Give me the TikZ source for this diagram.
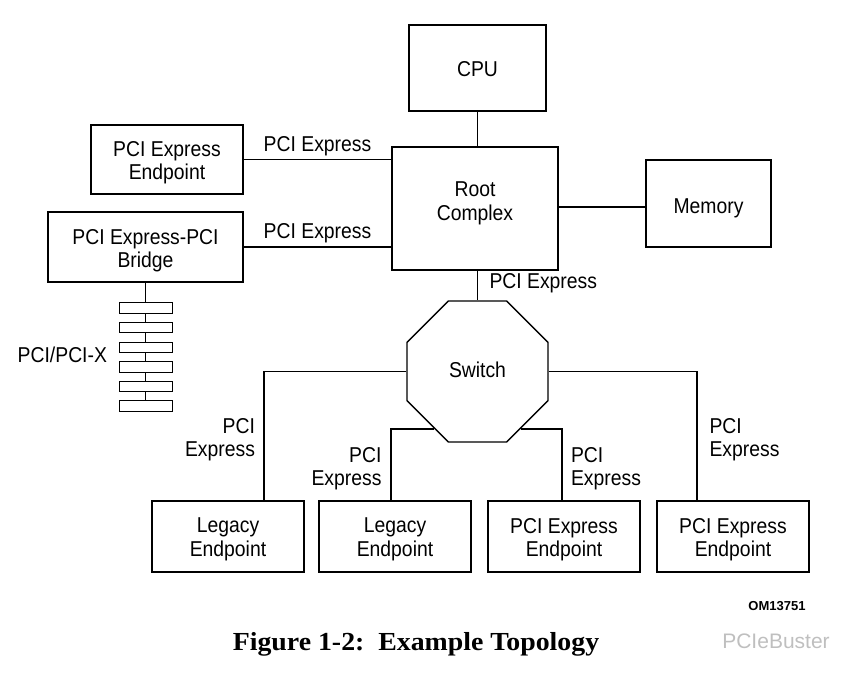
\documentclass[tikz,border=0pt]{standalone}
\usepackage{fontspec}
\setmainfont{Liberation Sans}[FakeStretch=0.9]
\newfontfamily\tagfont{Liberation Sans}
\newfontfamily\capfont{Liberation Serif}[FakeStretch=1.07]
\usetikzlibrary{shapes.geometric}

\begin{document}
\begin{tikzpicture}[x=1pt, y=-1pt, line width=1.4pt,
    box/.style={draw, inner sep=0pt},
    txt/.style={align=center},
    bus/.style={draw, line width=0.9pt, fill=white, minimum width=53pt, minimum height=10.5pt, inner sep=0pt},
    font=\fontsize{21.5}{23.5}\selectfont]
    \useasboundingbox (0,0) rectangle (859,677);
    \path (477.5, 68) node [box, minimum width=137pt, minimum height=86pt, label={[txt,yshift=-1pt]center:CPU}] (cpu) {};
    \path (475, 208.5) node [box, minimum width=166pt, minimum height=123pt, label={[txt,yshift=5pt]center:Root\\Complex}] (rc) {};
    \path (708.5, 203.5) node [box, minimum width=125pt, minimum height=87pt, label={[txt,yshift=-5pt]center:Memory}] (mem) {};
    \path (167, 159.5) node [box, minimum width=152pt, minimum height=69pt, label={[txt,yshift=-3pt]center:PCI Express\\Endpoint}] (ep) {};
    \path (145.5, 247) node [box, minimum width=195pt, minimum height=70pt, label={[txt,yshift=-3.5pt]center:PCI Express-PCI\\Bridge}] (br) {};
    \path (477.5, 371.5) node [draw, regular polygon, regular polygon sides=8, minimum size=152.6pt, inner sep=0pt, label={[txt,yshift=2pt]center:Switch}] (sw) {};
    \path (228, 536.5) node [box, minimum width=152pt, minimum height=71pt, label={[txt,yshift=-3pt]center:Legacy\\Endpoint}] (le1) {};
    \path (395, 536.5) node [box, minimum width=152pt, minimum height=71pt, label={[txt,yshift=-3pt]center:Legacy\\Endpoint}] (le2) {};
    \path (564, 536.5) node [box, minimum width=152pt, minimum height=71pt, label={[txt,yshift=-3pt]center:PCI Express\\Endpoint}] (pe1) {};
    \path (733, 536.5) node [box, minimum width=152pt, minimum height=71pt, label={[txt,yshift=-3pt]center:PCI Express\\Endpoint}] (pe2) {};
    % links to the root complex
    \draw (cpu.south) -- (cpu.south |- rc.north);
    \draw (ep.east) -- (ep.east -| rc.west) node[midway,above] {PCI Express};
    \draw (br.east) -- (br.east -| rc.west) node[midway,above] {PCI Express};
    \draw ([yshift=-3.5pt]mem.west -| rc.east) -- ([yshift=-3.5pt]mem.west);
    \draw (sw.north |- rc.south) -- (sw.north) node[midway,right,xshift=8pt,yshift=2pt] {PCI Express};
    % links from the switch
    \draw (sw.west) -| ([xshift=36pt]le1.north) node[pos=0.75,anchor=east,xshift=-5pt,yshift=-4pt,align=right] {PCI\\Express};
    \draw (sw.233) -| ([xshift=-4pt]le2.north) node[pos=0.75,anchor=east,xshift=-5.5pt,yshift=-4pt,align=right] {PCI\\Express};
    \draw (sw.307) -| ([xshift=-2pt]pe1.north) node[pos=0.75,anchor=west,xshift=5pt,yshift=-4pt,align=left] {PCI\\Express};
    \draw (sw.east) -| ([xshift=-36pt]pe2.north) node[pos=0.75,anchor=west,xshift=8.5pt,yshift=-4pt,align=left] {PCI\\Express};
    % PCI/PCI-X bus slots
    \draw (br.south) -- ++(0,118);
    \foreach \i in {1,...,6}
        \path (145.5, 308 + 19.6*\i - 19.6) node [bus] (slot\i) {};
    \path (111, 355) node [anchor=east] (pcix) {PCI/PCI-X};
    \path (777, 606) node [font=\tagfont\bfseries\fontsize{13}{15}\selectfont] (om) {OM13751};
    \path (416, 644) node [font=\capfont\bfseries\fontsize{26}{30}\selectfont] (cap) {Figure 1-2:\ \ Example Topology};
    \path (776, 641) node [font=\tagfont\fontsize{21}{24}\selectfont, text=gray!50] (wm) {PCIeBuster};
\end{tikzpicture}
\end{document}
